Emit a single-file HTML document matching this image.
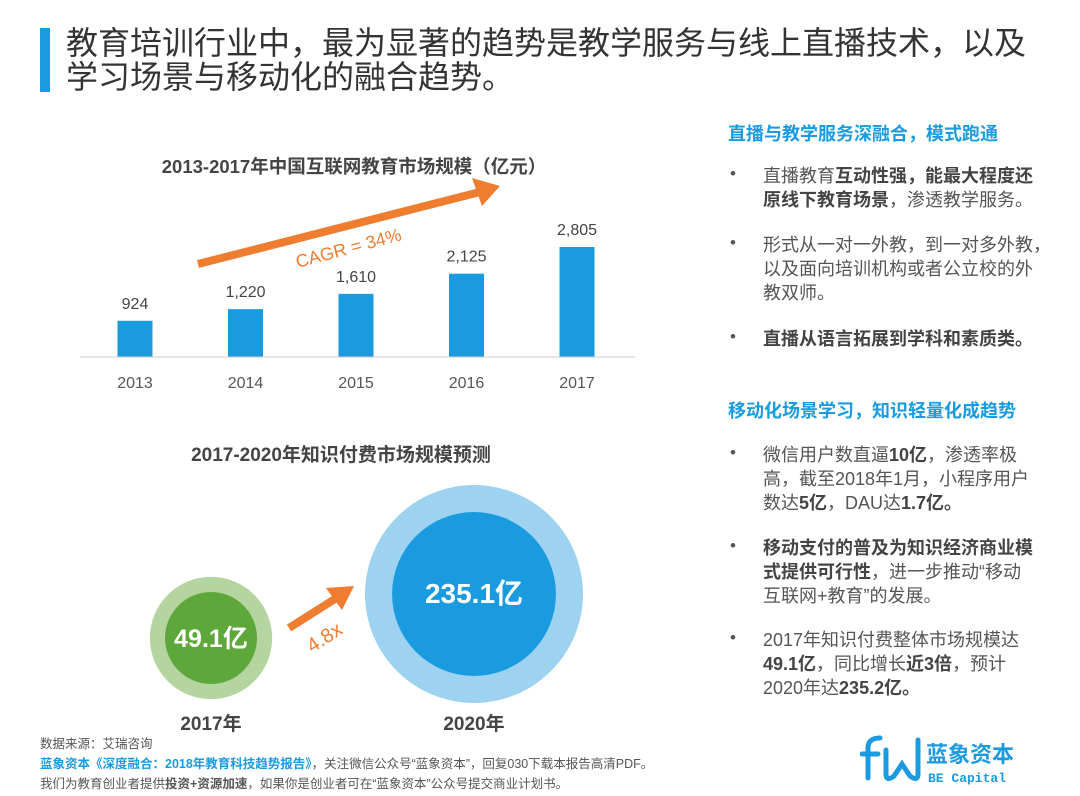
<!DOCTYPE html>
<html><head><meta charset="utf-8">
<style>
body{margin:0;width:1080px;height:796px;background:#fff;position:relative;overflow:hidden;font-family:"Liberation Sans","Noto Sans CJK SC",sans-serif;color:#444}
.abs{position:absolute;white-space:nowrap}
.title{left:66px;font-size:32px;color:#333;line-height:34px}
.h{left:728px;font-size:18px;font-weight:bold;color:#1a9be0}
.ln{left:763px;font-size:18px;color:#555;line-height:24px}
.ln b{color:#444}
.dot{left:730px;font-size:17px;color:#555}
.foot{left:40px;font-size:12.5px;color:#555}
</style></head><body>
<div class="abs" style="left:40px;top:28px;width:10px;height:64px;background:#1a9be0"></div>
<div class="abs title" style="top:26px">教育培训行业中，最为显著的趋势是教学服务与线上直播技术，以及</div>
<div class="abs title" style="top:60px">学习场景与移动化的融合趋势。</div>

<svg class="abs" style="left:0;top:0" width="700" height="796">
<text x="354" y="173" text-anchor="middle" font-size="18.5" font-weight="bold" fill="#444">2013-2017年中国互联网教育市场规模（亿元）</text>
<g id="bars"></g>
<line x1="80" y1="357" x2="635" y2="357" stroke="#ccc"/>
<g>
<line x1="198" y1="264" x2="480" y2="192" stroke="#ee7d30" stroke-width="8"/>
<polygon points="500,186 472,178 482,206" fill="#ee7d30"/>
</g>
<text x="350" y="254" font-size="18" fill="#ee7d30" transform="rotate(-15 350 254)" text-anchor="middle">CAGR = 34%</text>

<text x="341" y="461" text-anchor="middle" font-size="19" font-weight="bold" fill="#444">2017-2020年知识付费市场规模预测</text>
<g id="bubbles"></g>
<g>
<line x1="289" y1="628" x2="338" y2="597" stroke="#ee7d30" stroke-width="8"/>
<polygon points="354,586 326,588 342,610" fill="#ee7d30"/>
</g>
<text x="328" y="643" font-size="20" fill="#ee7d30" transform="rotate(-33 328 643)" text-anchor="middle">4.8x</text>
</svg>

<div class="abs h" style="top:120px">直播与教学服务深融合，模式跑通</div>
<div class="abs dot" style="top:164px">•</div>
<div class="abs ln" style="top:164px">直播教育<b>互动性强，能最大程度还<br>原线下教育场景</b>，渗透教学服务。</div>
<div class="abs dot" style="top:233px">•</div>
<div class="abs ln" style="top:233px">形式从一对一外教，到一对多外教，<br>以及面向培训机构或者公立校的外<br>教双师。</div>
<div class="abs dot" style="top:327px">•</div>
<div class="abs ln" style="top:327px"><b>直播从语言拓展到学科和素质类。</b></div>

<div class="abs h" style="top:397px">移动化场景学习，知识轻量化成趋势</div>
<div class="abs dot" style="top:443px">•</div>
<div class="abs ln" style="top:443px">微信用户数直逼<b>10亿</b>，渗透率极<br>高，截至2018年1月，小程序用户<br>数达<b>5亿</b>，DAU达<b>1.7亿。</b></div>
<div class="abs dot" style="top:536px">•</div>
<div class="abs ln" style="top:536px"><b>移动支付的普及为知识经济商业模<br>式提供可行性</b>，进一步推动“移动<br>互联网+教育”的发展。</div>
<div class="abs dot" style="top:628px">•</div>
<div class="abs ln" style="top:628px">2017年知识付费整体市场规模达<br><b>49.1亿</b>，同比增长<b>近3倍</b>，预计<br>2020年达<b>235.2亿。</b></div>

<div class="abs foot" style="top:733px">数据来源：艾瑞咨询</div>
<div class="abs foot" style="top:753px"><span style="color:#1a9be0;font-weight:bold">蓝象资本《深度融合：2018年教育科技趋势报告》</span>，关注微信公众号“蓝象资本”，回复030下载本报告高清PDF。</div>
<div class="abs foot" style="top:773px">我们为教育创业者提供<b>投资+资源加速</b>，如果你是创业者可在“蓝象资本”公众号提交商业计划书。</div>

<svg class="abs" style="left:860px;top:730px" width="200" height="60">
<path d="M8 48 V18 Q8 8 20 8 M2 24 H18 M26 20 V44 Q26 52 34 46 L42 34 L50 46 Q58 52 58 44 V10" stroke="#1a9be0" stroke-width="5" fill="none" stroke-linecap="round"/>
<text x="66" y="32" font-size="22" font-weight="bold" fill="#1a9be0">蓝象资本</text>
<text x="68" y="52" font-size="13" font-weight="bold" fill="#1a9be0" font-family="Liberation Mono,monospace">BE Capital</text>
</svg>

<script>
const years=["2013","2014","2015","2016","2017"];
const values=[924,1220,1610,2125,2805];
const valueLabels=["924","1,220","1,610","2,125","2,805"];
const bubbleYears=["2017年","2020年"];
const bubbleValues=[49.1,235.1];
const bubbleLabels=["49.1亿","235.1亿"];
const NS="http://www.w3.org/2000/svg";
const x0=135,step=110.5,base=357,k=110/2805,bw=35;
const xs=i=>x0+i*step, ys=v=>base-v*k;
const g=document.getElementById('bars');
function mk(t,a,p){const e=document.createElementNS(NS,t);for(const n in a)e.setAttribute(n,a[n]);p.appendChild(e);return e;}
values.forEach((v,i)=>{
 const r=mk('rect',{x:xs(i)-bw/2,y:ys(v),width:bw,height:base-ys(v),fill:'#1a9be0'},g);
 
 
 const t=mk('text',{x:xs(i),y:ys(v)-12,'text-anchor':'middle','font-size':16,fill:'#444'},g);t.textContent=valueLabels[i];
 
 
 const l=mk('text',{x:xs(i),y:388,'text-anchor':'middle','font-size':16,fill:'#555'},g);l.textContent=years[i];
 
 
});
const bg=document.getElementById('bubbles');
const cx=[211,474],cy=[638,594],colsO=['#b4d59f','#9dd2f1'],colsI=['#5ea73a','#1a9be0'];
const rad=v=>15.7+4.32*Math.sqrt(v);
bubbleValues.forEach((v,i)=>{
 const ri=rad(v), ro=ri*1.33;
 const o=mk('circle',{cx:cx[i],cy:cy[i],r:ro,fill:colsO[i]},bg);
 
 
 const c=mk('circle',{cx:cx[i],cy:cy[i],r:ri,fill:colsI[i]},bg);
 
 
 const t=mk('text',{x:cx[i],y:cy[i]+9,'text-anchor':'middle','font-size':i?28:25,'font-weight':'bold',fill:'#fff'},bg);t.textContent=bubbleLabels[i];
 
 
 const y=mk('text',{x:cx[i],y:730,'text-anchor':'middle','font-size':19,'font-weight':'bold',fill:'#444'},bg);y.textContent=bubbleYears[i];
 
 
});
</script>
</body></html>
